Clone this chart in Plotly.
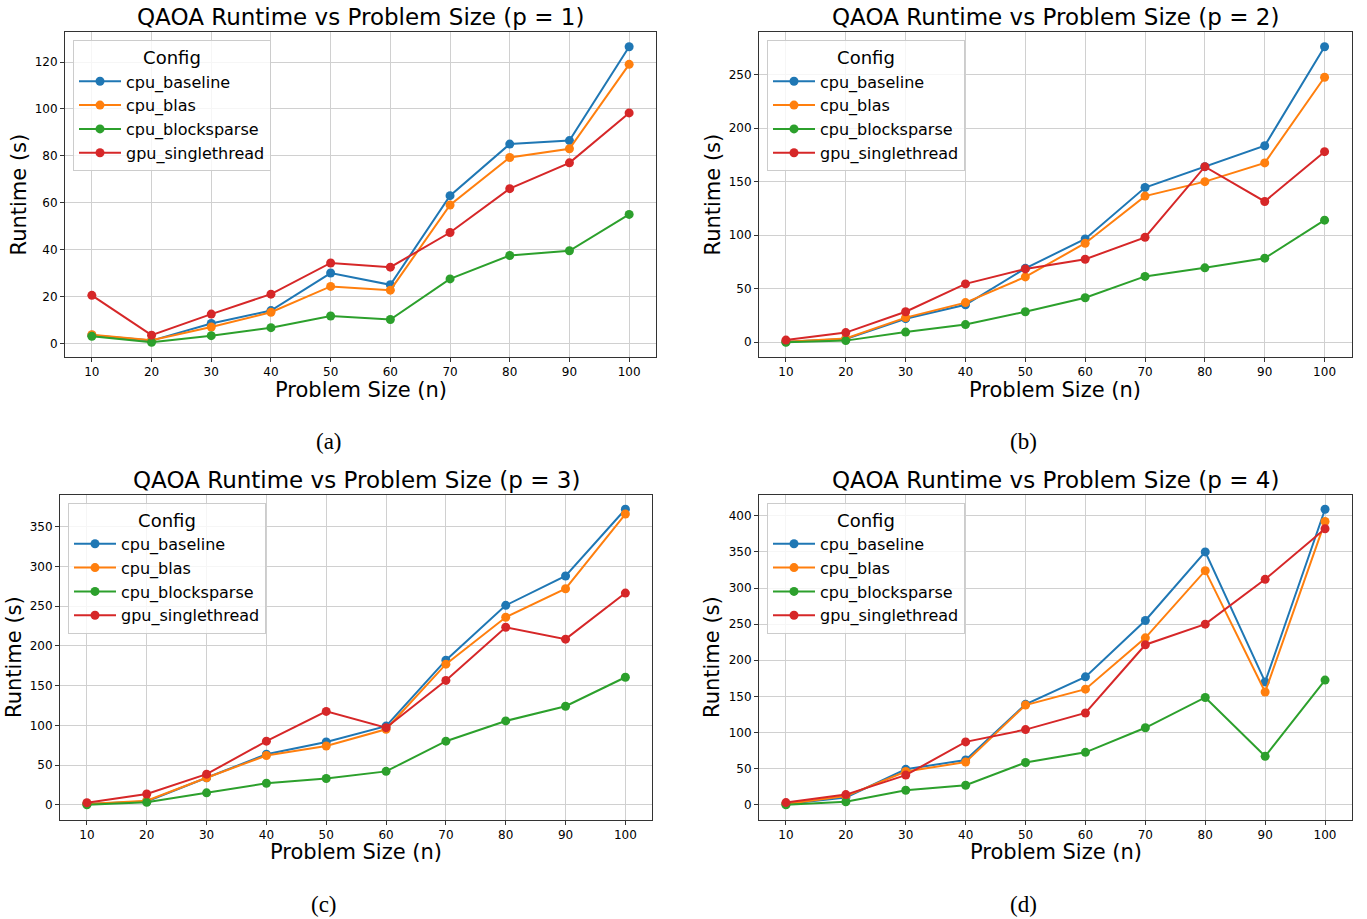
import plotly.graph_objects as go

# ---------------- data ----------------
problem_sizes = [10, 20, 30, 40, 50, 60, 70, 80, 90, 100]
configs = ["cpu_baseline", "cpu_blas", "cpu_blocksparse", "gpu_singlethread"]
p_values = [1, 2, 3, 4]
panel_labels = ["(a)", "(b)", "(c)", "(d)"]

p1_cpu_baseline = [3.5, 1.2, 8.5, 14.0, 30.0, 25.0, 63.0, 85.0, 86.5, 126.5]
p1_cpu_blas = [3.7, 1.3, 7.0, 13.3, 24.3, 22.7, 59.0, 79.3, 83.0, 119.0]
p1_cpu_blocksparse = [3.0, 0.5, 3.3, 6.7, 11.7, 10.2, 27.5, 37.5, 39.5, 55.0]
p1_gpu_singlethread = [20.5, 3.5, 12.5, 21.0, 34.3, 32.5, 47.3, 66.0, 77.0, 98.3]

p2_cpu_baseline = [0.5, 3.0, 22.0, 35.0, 69.0, 96.5, 144.5, 164.0, 183.5, 276.0]
p2_cpu_blas = [0.5, 3.5, 23.0, 37.0, 61.0, 92.5, 136.5, 150.0, 167.5, 247.5]
p2_cpu_blocksparse = [0.0, 1.5, 9.5, 16.5, 28.5, 41.5, 61.5, 69.5, 78.5, 114.0]
p2_gpu_singlethread = [2.0, 9.0, 28.5, 54.5, 68.5, 77.5, 98.0, 164.0, 131.5, 178.0]

p3_cpu_baseline = [1.0, 4.0, 34.0, 63.5, 79.0, 99.0, 182.0, 251.0, 288.0, 372.0]
p3_cpu_blas = [1.0, 5.0, 34.0, 62.0, 74.0, 95.0, 177.0, 236.0, 272.0, 366.0]
p3_cpu_blocksparse = [0.0, 3.0, 15.0, 27.0, 33.0, 42.0, 80.0, 105.5, 124.0, 160.5]
p3_gpu_singlethread = [2.5, 13.5, 38.5, 80.0, 117.5, 97.0, 156.5, 223.5, 208.5, 266.5]

p4_cpu_baseline = [1.0, 10.0, 49.0, 62.0, 139.0, 177.0, 255.0, 350.0, 170.0, 409.0]
p4_cpu_blas = [1.0, 12.0, 46.0, 59.0, 138.0, 160.0, 231.0, 324.0, 156.0, 392.0]
p4_cpu_blocksparse = [0.0, 4.0, 20.0, 27.0, 58.5, 72.5, 106.5, 148.5, 67.0, 172.5]
p4_gpu_singlethread = [3.0, 14.0, 41.0, 87.0, 104.0, 127.0, 221.5, 250.0, 312.0, 382.0]

y_dticks = [20, 50, 50, 50]

panel_series = [
    [p1_cpu_baseline, p1_cpu_blas, p1_cpu_blocksparse, p1_gpu_singlethread],
    [p2_cpu_baseline, p2_cpu_blas, p2_cpu_blocksparse, p2_gpu_singlethread],
    [p3_cpu_baseline, p3_cpu_blas, p3_cpu_blocksparse, p3_gpu_singlethread],
    [p4_cpu_baseline, p4_cpu_blas, p4_cpu_blocksparse, p4_gpu_singlethread],
]

# ---------------- style ----------------
W, H = 1367, 919
colors = ["#1f77b4", "#ff7f0e", "#2ca02c", "#d62728"]
FONT = "DejaVu Sans"
SERIF = "Liberation Serif"
TEXT = "#000000"
SPINE = "#333333"
GRID = "#d0d0d0"

# plot-area boxes in pixels: left, right, top, bottom
boxes = [
    (65, 656, 32, 357),
    (759, 1351.5, 32, 357),
    (60, 652.3, 494.5, 819.5),
    (759, 1352, 494.5, 819.5),
]
ylabel_x = [18, 712, 14, 712]
title_y = [17, 17, 480, 480]
xlabel_y = [390, 390, 852, 852]
caption_y = [441, 441, 904, 904]


def fx(px):
    return px / W


def fy(py):
    return 1 - py / H


fig = go.Figure()
annotations = []
layout_axes = {}

for i in range(4):
    l, r, t, b = boxes[i]
    xa = "x" if i == 0 else f"x{i+1}"
    ya = "y" if i == 0 else f"y{i+1}"
    leg = "legend" if i == 0 else f"legend{i+1}"
    for j, name in enumerate(configs):
        fig.add_trace(go.Scatter(
            x=problem_sizes, y=panel_series[i][j], name=name,
            mode="lines+markers",
            line=dict(color=colors[j], width=2),
            marker=dict(color=colors[j], size=9),
            xaxis=xa, yaxis=ya, legend=leg,
        ))
    allv = [v for s in panel_series[i] for v in s]
    lo, hi = min(allv), max(allv)
    pad = 0.05 * (hi - lo)
    xspan = problem_sizes[-1] - problem_sizes[0]
    xkey = "xaxis" if i == 0 else f"xaxis{i+1}"
    ykey = "yaxis" if i == 0 else f"yaxis{i+1}"
    common = dict(
        showline=True, mirror=True, linecolor=SPINE, linewidth=1,
        showgrid=True, gridcolor=GRID, gridwidth=1, zeroline=False,
        ticks="outside", ticklen=4, tickcolor=SPINE, tickwidth=1,
        tickfont=dict(family=FONT, size=12, color=TEXT),
    )
    layout_axes[xkey] = dict(
        domain=[fx(l), fx(r)], anchor=ya,
        range=[problem_sizes[0] - 0.05 * xspan, problem_sizes[-1] + 0.05 * xspan],
        tickmode="array", tickvals=problem_sizes,
        ticktext=[str(v) for v in problem_sizes], **common,
    )
    layout_axes[ykey] = dict(
        domain=[fy(b), fy(t)], anchor=xa,
        range=[lo - pad, hi + pad], tick0=0, dtick=y_dticks[i], **common,
    )
    # legend
    layout_axes[leg] = dict(
        x=fx(l + 8), y=fy(t + 8), xanchor="left", yanchor="top",
        xref="paper", yref="paper",
        bgcolor="rgba(255,255,255,0.8)", bordercolor="#cccccc", borderwidth=1,
        font=dict(family=FONT, size=16, color=TEXT),
        title=dict(text="Config", side="top center",
                   font=dict(family=FONT, size=18, color=TEXT)),
        itemwidth=42,
    )
    cx = (l + r) / 2
    # title
    annotations.append(dict(
        text=f"QAOA Runtime vs Problem Size (p = {p_values[i]})",
        x=fx(cx), y=fy(title_y[i]), xref="paper", yref="paper",
        xanchor="center", yanchor="middle", showarrow=False,
        font=dict(family=FONT, size=23, color=TEXT),
    ))
    # x label
    annotations.append(dict(
        text="Problem Size (n)", x=fx(cx), y=fy(xlabel_y[i]), xref="paper", yref="paper",
        xanchor="center", yanchor="middle", showarrow=False,
        font=dict(family=FONT, size=21, color=TEXT),
    ))
    # y label
    annotations.append(dict(
        text="Runtime (s)", x=fx(ylabel_x[i]), y=fy((t + b) / 2), xref="paper", yref="paper",
        xanchor="center", yanchor="middle", textangle=-90, showarrow=False,
        font=dict(family=FONT, size=21, color=TEXT),
    ))
    # caption
    annotations.append(dict(
        text=panel_labels[i], x=fx(cx - 32), y=fy(caption_y[i]), xref="paper", yref="paper",
        xanchor="center", yanchor="middle", showarrow=False,
        font=dict(family=SERIF, size=23, color=TEXT),
    ))

fig.update_layout(
    width=W, height=H, margin=dict(l=0, r=0, t=0, b=0),
    paper_bgcolor="white", plot_bgcolor="white",
    font=dict(family=FONT, color=TEXT),
    annotations=annotations, showlegend=True,
    **layout_axes,
)

fig.write_html("out.html")
